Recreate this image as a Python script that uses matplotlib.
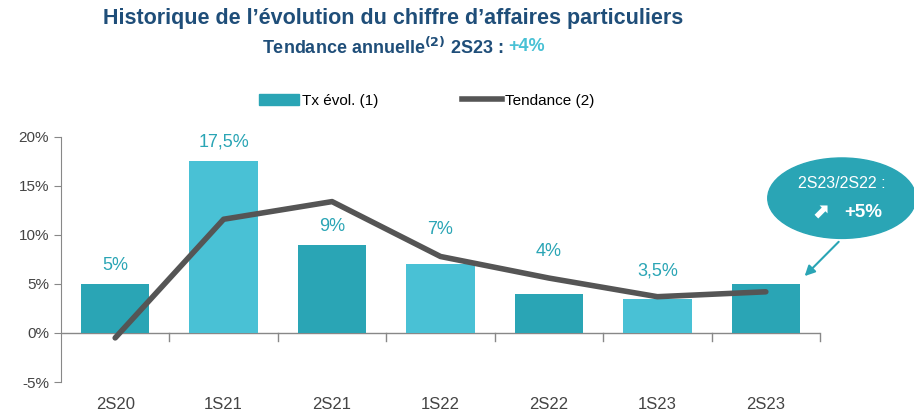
import numpy as np
import matplotlib.pyplot as plt
from matplotlib.patches import Ellipse, Patch
from matplotlib.lines import Line2D

periods = ['2S20', '1S21', '2S21', '1S22', '2S22', '1S23', '2S23']
tx_evol = [5, 17.5, 9, 7, 4, 3.5, 5]
tendance = [-0.5, 11.6, 13.4, 7.8, 5.6, 3.7, 4.2]
bar_labels = ['5%', '17,5%', '9%', '7%', '4%', '3,5%', '']
y_ticks = [-5, 0, 5, 10, 15, 20]

# label offsets above the bar tops (kept clear of the trend line)
label_gap = [1.9, 2.0, 1.9, 3.6, 4.3, 2.8, 0]

dark = '#2AA5B5'
light = '#49C1D5'
navy = '#1F4E79'
grey = '#555555'

plt.rcParams['font.family'] = ['Liberation Sans', 'DejaVu Sans']

fig = plt.figure(figsize=(9.14, 4.19), dpi=100)
ax = fig.add_axes([0.0667, 0.0883, 0.8305, 0.585])

x = np.arange(len(periods))
colors = [dark if i % 2 == 0 else light for i in range(len(periods))]
ax.bar(x, tx_evol, width=0.63, color=colors, zorder=2)
ax.plot(x, tendance, color=grey, lw=4, solid_capstyle='round', zorder=3)

for xi, v, lab, g in zip(x, tx_evol, bar_labels, label_gap):
    if lab:
        ax.text(xi, v + g, lab, ha='center', va='center', fontsize=13, color=dark)

ax.set_xlim(-0.5, len(periods) - 0.5)
ax.set_ylim(-5, 20)
ax.set_yticks(y_ticks)
ax.set_yticklabels([f'{t}%' for t in y_ticks], fontsize=11, color='#444444')
ax.tick_params(axis='y', direction='out', length=5, color='#888888')
ax.set_xticks([])
for s in ['top', 'right', 'bottom']:
    ax.spines[s].set_visible(False)
ax.spines['left'].set_color('#888888')

# zero line with category separators
ax.axhline(0, color='#888888', lw=1, zorder=1)
for b in np.arange(0.5, len(periods)):
    ax.plot([b, b], [0, -0.8], color='#888888', lw=1, clip_on=False)
for xi, p in zip(x, periods):
    ax.text(xi, -7.3, p, ha='center', va='center', fontsize=12, color='#444444', clip_on=False)

# titles
fig.text(0.43, 0.955, 'Historique de l\u2019évolution du chiffre d\u2019affaires particuliers',
         ha='center', va='center', fontsize=15.5, fontweight='bold', color=navy)
sub = fig.text(0.287, 0.888, 'Tendance annuelle$^{\\mathbf{(2)}}$ 2S23 :', ha='left', va='center',
               fontsize=13, fontweight='bold', color=navy)
fig.canvas.draw()
bb = sub.get_window_extent()
fig.text((bb.x1 + 5) / fig.bbox.width, 0.888, '+4%', ha='left', va='center',
         fontsize=13, fontweight='bold', color=light)

# legend
handles = [Patch(color=dark, label='Tx évol. (1)'),
           Line2D([0], [0], color=grey, lw=4, label='Tendance (2)')]
fig.legend(handles=handles, loc='center', bbox_to_anchor=(0.467, 0.76), ncol=2,
           frameon=False, fontsize=11, handlelength=2.6, handletextpad=0.2, columnspacing=5.5)

# callout bubble
ell = Ellipse((0.921, 0.527), 0.162, 0.192, transform=fig.transFigure, color=dark, zorder=5)
fig.patches.append(ell)
fig.text(0.921, 0.563, '2S23/2S22 :', ha='center', va='center', fontsize=11.5, color='white', zorder=6)
fig.text(0.897, 0.492, '\u2b08', ha='center', va='center', fontsize=15, fontweight='bold',
         color='white', zorder=6, family=['DejaVu Sans'])
fig.text(0.945, 0.492, '+5%', ha='center', va='center', fontsize=13.5, fontweight='bold',
         color='white', zorder=6)
ax.annotate('', xy=(6.34, 5.6), xytext=(6.69, 9.5),
            arrowprops=dict(arrowstyle='-|>', color=dark, lw=1.5, mutation_scale=15),
            annotation_clip=False)

fig.savefig('out.png', dpi=100)
